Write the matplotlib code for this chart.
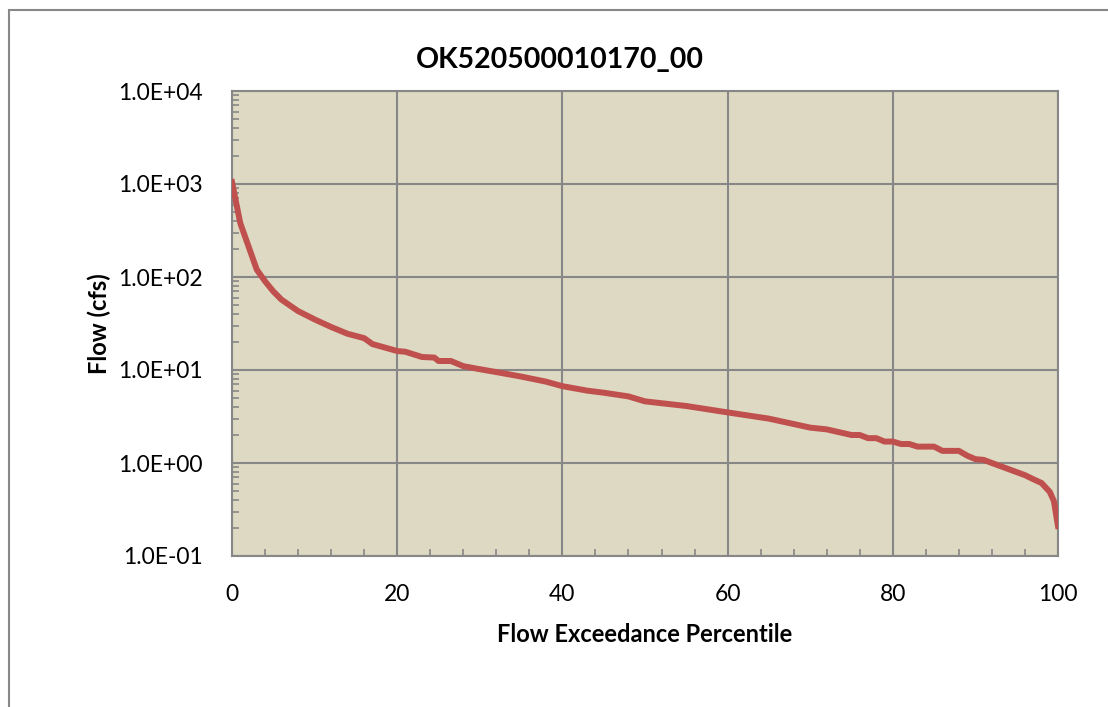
import matplotlib
matplotlib.use('Agg')
import matplotlib.pyplot as plt
from matplotlib.ticker import FixedLocator, FuncFormatter, LogLocator, NullFormatter
from matplotlib.patches import Rectangle

plt.rcParams['font.family'] = ['Lato', 'DejaVu Sans']

# flow duration curve
percentile = [0, 1, 3, 4, 5, 6, 8, 10, 12, 14, 16, 17, 20, 21, 23, 24.5, 25, 26.5, 28, 30,
              32, 35, 38, 40, 43, 45, 48, 50, 55, 60, 65, 70, 72, 75, 76, 77, 78, 79, 80,
              81, 82, 83, 85, 86, 88, 89, 90, 91, 92, 94, 96, 97, 98, 99, 99.5, 100]
flow = [1050, 380, 120, 90, 70, 57, 43, 35, 29, 24.5, 22, 19, 16, 15.7, 13.8, 13.6, 12.5, 12.5, 11, 10.2,
        9.5, 8.5, 7.5, 6.7, 6.0, 5.7, 5.2, 4.6, 4.1, 3.5, 3.0, 2.4, 2.3, 2.0, 2.0, 1.85, 1.85, 1.7, 1.7,
        1.6, 1.6, 1.5, 1.5, 1.35, 1.35, 1.2, 1.1, 1.08, 1.0, 0.86, 0.74, 0.67, 0.61, 0.49, 0.39, 0.21]

x_ticks = [0, 20, 40, 60, 80, 100]
y_ticks = [0.1, 1, 10, 100, 1000, 10000]
title = 'OK520500010170_00'

grid_col = '#878787'

fig = plt.figure(figsize=(11.08, 7.07), dpi=100)
ax = fig.add_axes([232 / 1108, 1 - 556 / 707, (1058 - 232) / 1108, (556 - 91) / 707])
ax.set_facecolor('#DDD9C3')

ax.plot(percentile, flow, color='#C0504D', linewidth=4.3, solid_joinstyle='round', zorder=3)

ax.set_yscale('log')
ax.set_xlim(0, 100)
ax.set_ylim(0.1, 10000)
ax.yaxis.set_major_locator(FixedLocator(y_ticks))
ax.yaxis.set_major_formatter(FuncFormatter(lambda v, p: '%.1E' % v))
ax.yaxis.set_minor_locator(LogLocator(base=10, subs=range(2, 10)))
ax.yaxis.set_minor_formatter(NullFormatter())
ax.xaxis.set_major_locator(FixedLocator(x_ticks))
ax.xaxis.set_minor_locator(FixedLocator([v for v in range(0, 101, 4)]))

ax.grid(True, which='major', color=grid_col, linewidth=1.5)
ax.tick_params(which='major', length=0, labelsize=16.5, pad=21)
ax.tick_params(axis='x', which='major', pad=20)
ax.tick_params(which='minor', direction='in', length=5, color=grid_col, width=1.2)
for s in ax.spines.values():
    s.set_color(grid_col)
    s.set_linewidth(1.5)

ax.set_xlabel('Flow Exceedance Percentile', fontsize=17, fontweight='bold', labelpad=13)
ax.set_ylabel('Flow (cfs)', fontsize=17, fontweight='bold', labelpad=5)
fig.text(560 / 1108, 1 - 60 / 707, title, fontsize=20.5, fontweight='bold', ha='center', va='center')

# chart border
fig.patches.append(Rectangle((8.5 / 1108, -0.1), 1.2, 1.1 - 9.5 / 707, transform=fig.transFigure,
                             fill=False, edgecolor='#888888', linewidth=1.5))

fig.savefig('out.png', dpi=100)
